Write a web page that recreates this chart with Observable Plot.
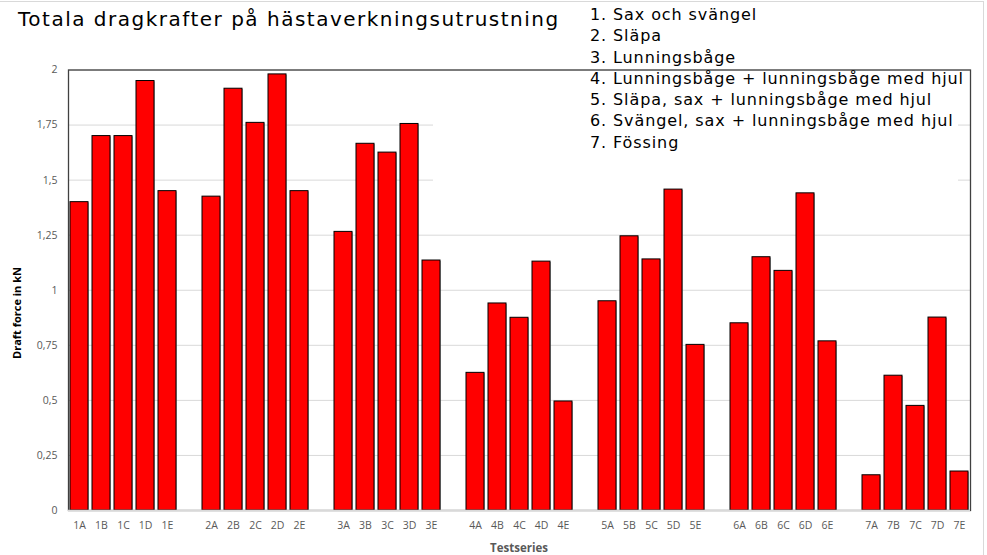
<!DOCTYPE html>
<html>
<head>
<meta charset="utf-8">
<script src="https://cdn.jsdelivr.net/npm/d3@7"></script>
<script src="https://cdn.jsdelivr.net/npm/@observablehq/plot@0.6"></script>
<style>
  html, body { margin: 0; padding: 0; background: #fff; }
  #wrap { position: relative; width: 987px; height: 555px; overflow: hidden; background: #fff; }
  #wrap svg { position: absolute; left: 0; top: 0; }
  .abs { position: absolute; white-space: nowrap; }
  #title { left: 18px; top: 9px; font-family: "DejaVu Sans", sans-serif; font-size: 20px; line-height: 20px; color: #000; letter-spacing: 1.5px; }
  #box { left: 433px; top: 71px; width: 525px; height: 113px; background: #fff; }
  #legend { left: 590px; top: 4px; font-family: "DejaVu Sans", sans-serif; font-size: 16px; line-height: 21.3px; color: #000; letter-spacing: 0.9px; }
  #ylab { left: 16px; top: 313px; transform: translate(-50%, -50%) rotate(-90deg); font-family: "Open Sans", sans-serif; font-weight: bold; font-size: 11px; color: #000; }
  #xlab { left: 519px; top: 547px; transform: translate(-50%, -50%); font-family: "Open Sans", sans-serif; font-weight: bold; font-size: 11.5px; color: #595959; }
  #outer { left: -2px; top: 1px; width: 986px; height: 600px; border: 1px solid #d9d9d9; box-sizing: border-box; }
</style>
</head>
<body>
<div id="wrap">
  <div class="abs" id="outer"></div>
</div>
<script>
// ---- data ----
const title = "Totala dragkrafter på hästaverkningsutrustning";
const legendLines = [
  "1. Sax och svängel",
  "2. Släpa",
  "3. Lunningsbåge",
  "4. Lunningsbåge + lunningsbåge med hjul",
  "5. Släpa, sax + lunningsbåge med hjul",
  "6. Svängel, sax + lunningsbåge med hjul",
  "7. Fössing"
];
const groups = ["1", "2", "3", "4", "5", "6", "7"];
const letters = ["A", "B", "C", "D", "E"];
const group1 = [1.40, 1.70, 1.70, 1.95, 1.45];
const group2 = [1.425, 1.915, 1.76, 1.98, 1.45];
const group3 = [1.265, 1.665, 1.625, 1.755, 1.135];
const group4 = [0.625, 0.94, 0.875, 1.13, 0.495];
const group5 = [0.95, 1.245, 1.14, 1.457, 0.752];
const group6 = [0.85, 1.15, 1.088, 1.44, 0.768];
const group7 = [0.16, 0.612, 0.475, 0.876, 0.177];
const yTicks = [0, 0.25, 0.5, 0.75, 1, 1.25, 1.5, 1.75, 2];
const yLabel = "Draft force in kN";
const xLabel = "Testseries";

// ---- build ----
const groupValues = [group1, group2, group3, group4, group5, group6, group7];
const data = [];
const domain = [];
const labels = [];
groups.forEach((g, gi) => {
  if (gi > 0) domain.push("gap" + gi);
  letters.forEach((l, li) => {
    const key = g + l;
    domain.push(key);
    labels.push(key);
    data.push({series: key, value: groupValues[gi][li]});
  });
});

const fmt = d => String(d).replace(".", ",");

const chart = Plot.plot({
  width: 987,
  height: 555,
  marginLeft: 68,
  marginRight: 17,
  marginTop: 69.5,
  marginBottom: 45,
  style: {fontFamily: "'Open Sans', sans-serif", fontSize: "10.5px", color: "#595959", background: "transparent"},
  x: {type: "band", domain, paddingInner: 0.2, paddingOuter: 0.1, label: null},
  y: {domain: [0, 2], label: null},
  marks: [
    Plot.gridY(yTicks, {stroke: "#d9d9d9", strokeOpacity: 1, strokeWidth: 1}),
    Plot.frame({stroke: "#404040", strokeWidth: 1.3}),
    Plot.barY(data, {x: "series", y: "value", fill: "#8c8c8c", fillOpacity: 0.7, dx: 1, dy: 0.8}),
    Plot.barY(data, {x: "series", y: "value", fill: "#ff0000", stroke: "#000", strokeWidth: 1}),
    Plot.ruleY([0], {stroke: "#d9d9d9", strokeWidth: 1.5}),
    Plot.axisY({ticks: yTicks, tickFormat: fmt, tickSize: 0, tickPadding: 11, label: null, fill: "#595959"}),
    Plot.axisX(labels, {tickSize: 0, tickPadding: 11, label: null, fill: "#595959"})
  ]
});

const wrap = document.getElementById("wrap");
wrap.appendChild(chart);

function addDiv(id, html) {
  const d = document.createElement("div");
  d.className = "abs";
  d.id = id;
  d.innerHTML = html;
  wrap.appendChild(d);
  return d;
}
addDiv("box", "");
addDiv("title", title);
addDiv("legend", legendLines.join("<br>"));
addDiv("ylab", yLabel);
addDiv("xlab", xLabel);
</script>
</body>
</html>
